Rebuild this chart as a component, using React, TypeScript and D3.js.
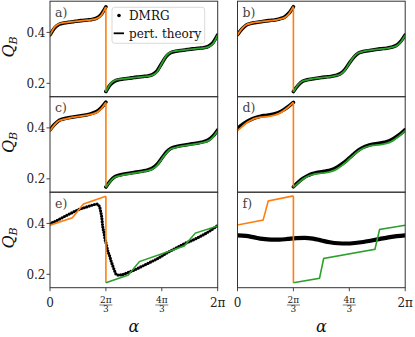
import React from 'react';
import * as d3 from 'd3';

// alpha grid in degrees (0 .. 360 = 2π), split at 2π/3 where the curves jump
const alphaLeft = [0, 10, 20, 30, 40, 50, 60, 70, 80, 90, 100, 110, 120];
const alphaRight = [120, 130, 140, 150, 160, 170, 180, 190, 200, 210, 220, 230, 240,
  250, 260, 270, 280, 290, 300, 310, 320, 330, 340, 350, 360];

// panel a
const pertLeftA = [0.389, 0.421, 0.434, 0.438, 0.440, 0.442, 0.444, 0.446, 0.448, 0.450, 0.454, 0.467, 0.500];
const pertRightA = [0.167, 0.199, 0.212, 0.216, 0.218, 0.220, 0.222, 0.224, 0.226, 0.228, 0.232, 0.245, 0.278,
  0.310, 0.323, 0.327, 0.329, 0.331, 0.333, 0.335, 0.337, 0.339, 0.343, 0.356, 0.389];
const dmrgLeftA = [0.390, 0.418, 0.432, 0.437, 0.440, 0.442, 0.445, 0.447, 0.449, 0.451, 0.456, 0.471, 0.500];
const dmrgRightA = [0.168, 0.196, 0.210, 0.215, 0.218, 0.220, 0.223, 0.225, 0.227, 0.229, 0.234, 0.249, 0.279,
  0.307, 0.321, 0.326, 0.329, 0.331, 0.334, 0.336, 0.338, 0.340, 0.345, 0.360, 0.390];

// panel b
const pertLeftB = [0.390, 0.416, 0.431, 0.436, 0.440, 0.442, 0.444, 0.446, 0.448, 0.452, 0.457, 0.472, 0.501];
const pertRightB = [0.167, 0.194, 0.209, 0.214, 0.218, 0.220, 0.222, 0.224, 0.226, 0.230, 0.235, 0.250, 0.278,
  0.305, 0.320, 0.325, 0.329, 0.331, 0.333, 0.335, 0.337, 0.341, 0.346, 0.361, 0.389];
const dmrgLeftB = [0.391, 0.414, 0.430, 0.436, 0.439, 0.442, 0.445, 0.447, 0.449, 0.453, 0.459, 0.475, 0.501];
const dmrgRightB = [0.168, 0.192, 0.208, 0.214, 0.217, 0.220, 0.223, 0.225, 0.227, 0.231, 0.237, 0.253, 0.279,
  0.303, 0.319, 0.325, 0.328, 0.331, 0.334, 0.336, 0.338, 0.342, 0.348, 0.364, 0.390];

// panel c
const pertLeftC = [0.389, 0.413, 0.429, 0.434, 0.438, 0.442, 0.444, 0.447, 0.450, 0.454, 0.460, 0.475, 0.500];
const pertRightC = [0.167, 0.191, 0.207, 0.212, 0.216, 0.219, 0.222, 0.225, 0.228, 0.232, 0.238, 0.253, 0.278,
  0.302, 0.318, 0.323, 0.327, 0.330, 0.333, 0.336, 0.339, 0.343, 0.349, 0.364, 0.389];
const dmrgLeftC = [0.392, 0.414, 0.430, 0.436, 0.440, 0.443, 0.446, 0.449, 0.452, 0.457, 0.464, 0.479, 0.501];
const dmrgRightC = [0.168, 0.193, 0.209, 0.215, 0.219, 0.222, 0.225, 0.228, 0.231, 0.235, 0.242, 0.257, 0.281,
  0.305, 0.320, 0.326, 0.330, 0.333, 0.336, 0.339, 0.342, 0.346, 0.353, 0.368, 0.392];

// panel d
const pertLeftD = [0.389, 0.405, 0.420, 0.431, 0.438, 0.442, 0.444, 0.446, 0.450, 0.457, 0.469, 0.483, 0.500];
const pertRightD = [0.167, 0.183, 0.198, 0.209, 0.216, 0.220, 0.222, 0.224, 0.228, 0.235, 0.247, 0.261, 0.278,
  0.294, 0.309, 0.320, 0.327, 0.331, 0.333, 0.335, 0.339, 0.346, 0.358, 0.372, 0.389];
const dmrgLeftD = [0.398, 0.413, 0.425, 0.434, 0.441, 0.446, 0.449, 0.452, 0.456, 0.462, 0.472, 0.485, 0.500];
const dmrgRightD = [0.169, 0.186, 0.201, 0.212, 0.220, 0.225, 0.228, 0.231, 0.235, 0.242, 0.253, 0.266, 0.282,
  0.298, 0.313, 0.324, 0.331, 0.336, 0.339, 0.342, 0.346, 0.353, 0.364, 0.377, 0.393];

// panel e (coarse perturbation theory, dotted DMRG)
const alphaPertLeftE = [0, 48, 72, 120];
const pertLeftE = [0.393, 0.422, 0.476, 0.507];
const alphaPertRightE = [120, 168, 192, 288, 312, 360];
const pertRightE = [0.167, 0.197, 0.250, 0.311, 0.362, 0.390];
const alphaDmrgE = [0, 11, 22, 32, 43, 54, 65, 76, 86, 95, 101, 104, 107, 109, 111, 113, 116, 118, 121, 124,
  128, 131, 135, 139, 142, 146, 155, 166, 180, 198, 216, 234, 252, 270, 288, 306, 324, 342, 360];
const dmrgE = [0.398, 0.408, 0.418, 0.428, 0.438, 0.448, 0.457, 0.463, 0.469, 0.474, 0.476, 0.472, 0.462, 0.445,
  0.425, 0.390, 0.362, 0.339, 0.318, 0.293, 0.272, 0.253, 0.232, 0.212, 0.200, 0.197, 0.199, 0.206, 0.216, 0.232,
  0.248, 0.265, 0.285, 0.303, 0.320, 0.334, 0.350, 0.369, 0.392];

// panel f
const alphaPertLeftF = [0, 55, 66, 120];
const pertLeftF = [0.394, 0.413, 0.488, 0.508];
const alphaPertRightF = [120, 176, 185, 295, 305, 360];
const pertRightF = [0.167, 0.184, 0.262, 0.298, 0.376, 0.393];
const alphaDmrgF = [0, 18, 36, 54, 72, 90, 108, 126, 144, 162, 180, 198, 216, 234, 252, 270, 288, 306, 324, 342, 360];
const dmrgF = [0.353, 0.351, 0.345, 0.339, 0.336, 0.336, 0.339, 0.342, 0.343, 0.340, 0.333, 0.326, 0.322, 0.321,
  0.323, 0.327, 0.333, 0.339, 0.345, 0.350, 0.353];

const yTicks = [0.2, 0.4];
const xTicks = [0, 120, 240, 360];
const xTickNum = ['0', '2π', '4π', '2π'];
const xTickDen = ['', '3', '3', ''];

const ORANGE = '#ff7f0e';
const GREEN = '#2ca02c';
const SERIF = '"DejaVu Serif", serif';

const colX = [50, 237.5];
const rowY = [1.2, 96.7, 192.2];
const PW = 167.7;
const PH = 95.5;

const zip = (a: number[], q: number[]) => a.map((v, i) => [v, q[i]] as [number, number]);

const panels = [
  { label: 'a)', row: 0, col: 0, kind: 'smooth',
    pl: zip(alphaLeft, pertLeftA), pr: zip(alphaRight, pertRightA), dm: [zip(alphaLeft, dmrgLeftA), zip(alphaRight, dmrgRightA)] },
  { label: 'b)', row: 0, col: 1, kind: 'smooth',
    pl: zip(alphaLeft, pertLeftB), pr: zip(alphaRight, pertRightB), dm: [zip(alphaLeft, dmrgLeftB), zip(alphaRight, dmrgRightB)] },
  { label: 'c)', row: 1, col: 0, kind: 'smooth',
    pl: zip(alphaLeft, pertLeftC), pr: zip(alphaRight, pertRightC), dm: [zip(alphaLeft, dmrgLeftC), zip(alphaRight, dmrgRightC)] },
  { label: 'd)', row: 1, col: 1, kind: 'smooth',
    pl: zip(alphaLeft, pertLeftD), pr: zip(alphaRight, pertRightD), dm: [zip(alphaLeft, dmrgLeftD), zip(alphaRight, dmrgRightD)] },
  { label: 'e)', row: 2, col: 0, kind: 'dots',
    pl: zip(alphaPertLeftE, pertLeftE), pr: zip(alphaPertRightE, pertRightE), dm: [zip(alphaDmrgE, dmrgE)] },
  { label: 'f)', row: 2, col: 1, kind: 'thick',
    pl: zip(alphaPertLeftF, pertLeftF), pr: zip(alphaPertRightF, pertRightF), dm: [zip(alphaDmrgF, dmrgF)] },
];

const App = () => {
  const x = d3.scaleLinear().domain([0, 360]).range([0, PW]);
  const y = d3.scaleLinear().domain([0.1475, 0.5225]).range([PH, 0]);

  const smooth = d3.line<[number, number]>().x(d => x(d[0])).y(d => y(d[1])).curve(d3.curveMonotoneX);
  const straight = d3.line<[number, number]>().x(d => x(d[0])).y(d => y(d[1]));

  return (
    <svg width={415} height={337} fontFamily={SERIF}
      style={{ position: 'absolute', left: 0, top: 0, background: '#fff' }}>
      <defs>
        <clipPath id="plotclip">
          <rect x={0} y={0} width={PW} height={PH} />
        </clipPath>
      </defs>

      {panels.map(p => {
        const x0 = colX[p.col];
        const y0 = rowY[p.row];
        const pertLine = p.kind === 'smooth' ? smooth : straight;
        const drop: [number, number][] = [p.pl[p.pl.length - 1], p.pr[0]];
        return (
          <g key={p.label} transform={`translate(${x0},${y0})`}>
            <g clipPath="url(#plotclip)">
              {p.dm.map((seg, i) => (
                <path key={i} d={smooth(seg) || ''} fill="none" stroke="#000"
                  strokeWidth={p.kind === 'dots' ? 3.2 : p.kind === 'thick' ? 4.2 : 3.6}
                  strokeLinecap="round" strokeLinejoin="round"
                  strokeDasharray={p.kind === 'dots' ? '0 2.7' : undefined} />
              ))}
              <path d={pertLine(p.pl) || ''} fill="none" stroke={ORANGE} strokeWidth={p.kind === 'smooth' ? 1.8 : 1.6} />
              <path d={straight(drop) || ''} fill="none" stroke={ORANGE} strokeWidth={1.6} />
              <path d={pertLine(p.pr) || ''} fill="none" stroke={GREEN} strokeWidth={p.kind === 'smooth' ? 1.8 : 1.6} />
            </g>
            <rect x={0} y={0} width={PW} height={PH} fill="none" stroke="#333" strokeWidth={1} />
            <text x={5} y={15.5} fontSize={12.5} fill="#444">{p.label}</text>

            {p.col === 0 && yTicks.map(t => (
              <g key={t} transform={`translate(0,${y(t)})`}>
                <line x1={-3.5} x2={0} stroke="#333" strokeWidth={0.9} />
                <text x={-4.5} dy={4.3} textAnchor="end" fontSize={12} fill="#222">{t.toFixed(1)}</text>
              </g>
            ))}
            {p.col === 0 && (
              <text transform={`translate(${13.5 - x0},${PH / 2 - 2}) rotate(-90)`} textAnchor="middle"
                fontSize={16} fontStyle="italic" fill="#111">
                Q<tspan fontSize={11} dy={3.5}>B</tspan>
              </text>
            )}

            {p.row === 2 && xTicks.map((t, i) => (
              <g key={t} transform={`translate(${x(t)},${PH})`}>
                <line y1={0} y2={3.5} stroke="#333" strokeWidth={0.9} />
                {xTickDen[i] === '' ? (
                  <text y={19} textAnchor="middle" fontSize={12} fill="#222">{xTickNum[i]}</text>
                ) : (
                  <g>
                    <text y={15.8} textAnchor="middle" fontSize={9} fill="#222">{xTickNum[i]}</text>
                    <line x1={-6.5} x2={6.5} y1={17.3} y2={17.3} stroke="#222" strokeWidth={0.6} />
                    <text y={24.4} textAnchor="middle" fontSize={9} fill="#222">{xTickDen[i]}</text>
                  </g>
                )}
              </g>
            ))}
            {p.row === 2 && (
              <text x={PW / 2} y={PH + 44} textAnchor="middle" fontSize={16} fontStyle="italic" fill="#111">α</text>
            )}

            {p.label === 'a)' && (
              <g>
                <rect x={62} y={6.1} width={92.7} height={36} rx={2.5} fill="#fff" fillOpacity={0.8}
                  stroke="#d0d0d0" strokeWidth={0.8} />
                <circle cx={69} cy={14.3} r={1.8} fill="#000" />
                <text x={79} y={18.8} fontSize={12} fill="#111">DMRG</text>
                <line x1={63.7} x2={74} y1={32.1} y2={32.1} stroke="#000" strokeWidth={1.8} />
                <text x={79} y={36.5} fontSize={12} fill="#111">pert. theory</text>
              </g>
            )}
          </g>
        );
      })}
    </svg>
  );
};

export default App;
